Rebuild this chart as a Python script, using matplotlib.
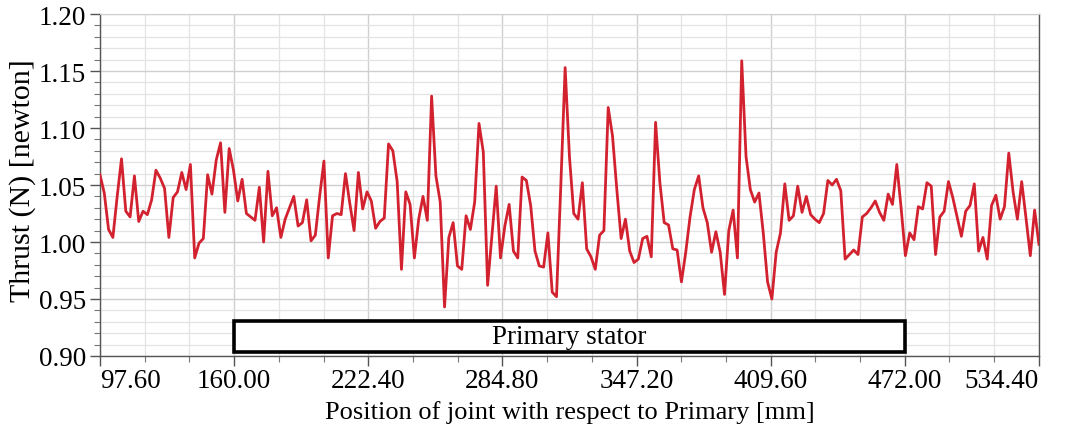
import numpy as np
import matplotlib
matplotlib.use("Agg")
import matplotlib.pyplot as plt
from matplotlib.patches import Rectangle
from matplotlib.ticker import MultipleLocator, FixedLocator

plt.rcParams['font.family'] = ['Liberation Serif', 'DejaVu Serif']

# Thrust samples along the joint position sweep (2 mm step)
thrust = [
    1.059, 1.043, 1.011, 1.004, 1.040, 1.073, 1.027, 1.022, 1.058, 1.018,
    1.027, 1.024, 1.037, 1.063, 1.056, 1.047, 1.004, 1.039, 1.044, 1.061,
    1.046, 1.068, 0.986, 0.999, 1.003, 1.059, 1.042, 1.072, 1.087, 1.026,
    1.082, 1.063, 1.036, 1.055, 1.025, 1.022, 1.019,
    1.048, 1.000, 1.062, 1.023, 1.030, 1.004, 1.020, 1.030, 1.040, 1.014,
    1.017, 1.037, 1.001, 1.006, 1.040, 1.071, 0.986, 1.023, 1.025, 1.024,
    1.060, 1.034, 1.010, 1.061, 1.029, 1.044, 1.036, 1.012, 1.018, 1.021,
    1.086, 1.080, 1.053, 0.976, 1.044, 1.033, 0.986,
    1.020, 1.040, 1.019, 1.128, 1.058, 1.035, 0.943, 1.004, 1.017, 0.979,
    0.976, 1.023, 1.011, 1.035, 1.104, 1.079, 0.962, 1.006, 1.049, 0.986,
    1.014, 1.033, 0.992, 0.986, 1.057, 1.054, 1.032, 0.992, 0.979, 0.978,
    1.008, 0.956, 0.952, 1.050, 1.153, 1.075,
    1.025, 1.020, 1.052, 0.994, 0.987, 0.976, 1.006, 1.010, 1.118, 1.093,
    1.046, 1.003, 1.020, 0.992, 0.982, 0.985, 1.003, 1.005, 0.987, 1.105,
    1.052, 1.017, 1.015, 0.994, 0.993, 0.965, 0.991, 1.022, 1.046, 1.058,
    1.030, 1.017, 0.991, 1.009, 0.991, 0.954, 1.010,
    1.028, 0.986, 1.159, 1.075, 1.046, 1.035, 1.043, 1.008, 0.965, 0.950,
    0.991, 1.008, 1.051, 1.019, 1.023, 1.049, 1.026, 1.040, 1.024, 1.020,
    1.017, 1.025, 1.054, 1.050, 1.055, 1.045, 0.985, 0.989, 0.993, 0.989,
    1.022, 1.025, 1.030, 1.036, 1.026, 1.019,
    1.042, 1.033, 1.068, 1.030, 0.988, 1.008, 1.002, 1.031, 1.029, 1.052,
    1.049, 0.989, 1.022, 1.027, 1.053, 1.039, 1.022, 1.005, 1.027, 1.032,
    1.051, 0.992, 1.004, 0.985, 1.032, 1.041, 1.020, 1.031, 1.078, 1.044,
    1.020, 1.053, 1.021, 0.988, 1.028, 0.998,
]

x_start, x_end = 97.6, 534.4
x_ticks = [97.60, 160.00, 222.40, 284.80, 347.20, 409.60, 472.00, 534.40]
y_ticks = [0.90, 0.95, 1.00, 1.05, 1.10, 1.15, 1.20]
stator_start, stator_end = 160.0, 472.0
stator_label = "Primary stator"

position = np.linspace(x_start, x_end, len(thrust))

fig = plt.figure(figsize=(10.83, 4.39), dpi=100)
ax = fig.add_axes([0.0923, 0.1868, 0.867, 0.779])

ax.plot(position, thrust, color='#d3222f', lw=2.0, zorder=3)

ax.set_xlim(x_start, x_end)
ax.set_ylim(0.90, 1.20)

ax.xaxis.set_major_locator(FixedLocator(x_ticks))
ax.xaxis.set_minor_locator(FixedLocator(np.arange(x_start, x_end + 0.01, 20.8)))
ax.yaxis.set_major_locator(FixedLocator(y_ticks))
ax.yaxis.set_minor_locator(MultipleLocator(0.01))

ax.grid(which='minor', color='#e3e3e3', lw=0.9, zorder=0)
ax.grid(which='major', color='#cfcfcf', lw=1.0, zorder=0)
ax.set_axisbelow(True)

ax.set_xticklabels([f"{v:.2f}" for v in x_ticks], fontsize=19.5)
ax.set_yticklabels([f"{v:.2f}" for v in y_ticks], fontsize=19.5)
labels = ax.get_xticklabels()
labels[0].set_ha('left')
labels[-1].set_ha('right')

ax.tick_params(which='major', direction='out', length=7, width=1.0,
               color='#555555', pad=2)
ax.tick_params(axis='y', which='major', pad=3)
ax.tick_params(which='minor', direction='out', length=4, width=0.8,
               color='#777777')

for side in ('left', 'bottom', 'right'):
    ax.spines[side].set_color('#555555')
    ax.spines[side].set_linewidth(1.0)
ax.spines['top'].set_color('#cfcfcf')

ax.set_xlabel("Position of joint with respect to Primary [mm]", fontsize=19, labelpad=5)
ax.set_ylabel("Thrust (N) [newton]", fontsize=21.5, va='center')
ax.yaxis.set_label_coords(-0.0820, 0.515)

box = Rectangle((stator_start, 0.9035), stator_end - stator_start, 0.027,
                facecolor='white', edgecolor='black', lw=2.6, zorder=4)
ax.add_patch(box)
ax.text((stator_start + stator_end) / 2, 0.9172, stator_label,
        ha='center', va='center', fontsize=19.5, zorder=5)

fig.savefig("out.png", dpi=100)
